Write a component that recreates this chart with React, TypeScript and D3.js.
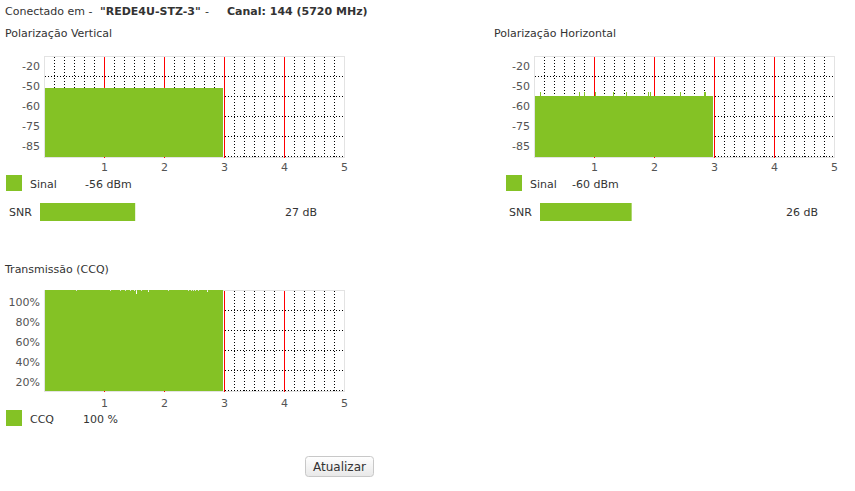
import React from "react";
import * as d3 from "d3";

// ---------- data ----------
const xTicks = [1, 2, 3, 4, 5];
const signalTicks = [-20, -50, -60, -75, -85];
const signalDomain = [-20, -50, -60, -75, -85, -95];
const ccqTicks = [100, 80, 60, 40, 20];

// run-length series: [count of 1-second samples, value]
const signalVRuns: [number, number][] = [[178, -56]];
const signalHRuns: [number, number][] = [
  [5, -60], [1, -58], [38, -60], [1, -58], [4, -60], [1, -58], [10, -60], [1, -58],
  [17, -60], [1, -58], [12, -60], [1, -58], [21, -60], [1, -58], [1, -60], [1, -58],
  [29, -60], [1, -58], [23, -60], [2, -58], [7, -60],
];
const ccqRuns: [number, number][] = [
  [31, 100], [1, 99], [33, 100], [1, 99], [9, 100], [1, 99], [4, 100], [1, 99],
  [4, 100], [1, 99], [3, 100], [1, 99], [1, 100], [1, 96], [4, 100], [1, 99],
  [6, 100], [1, 98], [19, 100], [1, 99], [19, 100], [1, 99], [2, 100], [1, 99],
  [1, 100], [1, 99], [1, 100], [1, 99], [2, 100], [1, 99], [8, 100], [1, 98], [15, 100],
];

const signalV = -56;
const signalH = -60;
const snrV = 27;
const snrH = 26;
const ccqNow = 100;

// ---------- style ----------
const GREEN = "#84c225";
const FONT = "'DejaVu Sans', Verdana, sans-serif";
const TEXT = "#333333";
const AXIS = "#545454";

function expand(runs: [number, number][]) {
  const out: { t: number; v: number }[] = [];
  let t = 1;
  for (const [n, v] of runs) {
    for (let k = 0; k < n; k++) out.push({ t: t++, v });
  }
  return out;
}

type ChartProps = {
  left: number;
  top: number;
  yScale: (v: number) => number;
  bottomVal: number;
  gridVals: number[];
  ticks: number[];
  tickFmt: (v: number) => string;
  labelOffset: number;
  xLabelY: number;
  data: { t: number; v: number }[];
};

function TimeChart(p: ChartProps) {
  const x = d3.scaleLinear().domain([0, 5]).range([p.left, p.left + 300]);
  const yB = p.yScale(p.bottomVal);
  const yT = p.top;
  const sub: number[] = [];
  for (let k = 1; k < 30; k++) if (k % 6 !== 0) sub.push(k / 6);
  return (
    <g>
      <rect x={p.left + 0.5} y={yT + 0.5} width={300} height={yB - yT + 1} fill="#fff" stroke="#e3e3e3" />
      {sub.map((s) => (
        <line key={"v" + s} x1={Math.round(x(s)) + 0.5} x2={Math.round(x(s)) + 0.5} y1={yT + 1} y2={yB + 1}
          stroke="#000" strokeDasharray="1,2" />
      ))}
      {p.gridVals.map((g) => (
        <line key={"h" + g} x1={p.left + 1} x2={p.left + 300} y1={p.yScale(g) + 0.5} y2={p.yScale(g) + 0.5}
          stroke="#000" strokeDasharray="1,2" />
      ))}
      {[1, 2, 3, 4].map((m) => (
        <line key={"r" + m} x1={x(m) + 0.5} x2={x(m) + 0.5} y1={yT + 1} y2={yB + 2} stroke="#ff0000" />
      ))}
      <g shapeRendering="crispEdges">
        {p.data.map((d) => (
          <rect key={d.t} x={x(d.t / 60)} width={x((d.t + 1) / 60) - x(d.t / 60)}
            y={p.yScale(d.v)} height={yB + 1 - p.yScale(d.v)} fill={GREEN} />
        ))}
      </g>
      {p.ticks.map((t) => (
        <text key={"y" + t} x={p.left - 4} y={p.yScale(t) + p.labelOffset} textAnchor="end"
          dominantBaseline="central" fill={AXIS} fontSize={11}>{p.tickFmt(t)}</text>
      ))}
      {xTicks.map((t) => (
        <text key={"x" + t} x={x(t) + 0.5} y={p.xLabelY} textAnchor="middle" dominantBaseline="central"
          fill={AXIS} fontSize={11}>{t}</text>
      ))}
    </g>
  );
}

export default function App() {
  const ySig = d3.scaleLinear().domain(signalDomain).range([56, 76, 96, 116, 136, 156]);
  const yCcq = d3.scaleLinear().domain([0, 100]).range([390, 290]);
  const snr = d3.scaleLinear().domain([0, 80]).range([0, 282]);
  const dV = expand(signalVRuns);
  const dH = expand(signalHRuns);
  const dC = expand(ccqRuns);

  return (
    <svg width={855} height={491} style={{ position: "absolute", left: 0, top: 0, background: "#fff" }}
      fontFamily={FONT} fontSize={11}>
      <text x={5} y={15} fill={TEXT} xmlSpace="preserve">
        <tspan>Conectado em - </tspan>
        <tspan fontWeight="bold" x={100}>"REDE4U-STZ-3"</tspan>
        <tspan x={205}>-</tspan>
        <tspan fontWeight="bold" x={227}>Canal: 144 (5720 MHz)</tspan>
      </text>

      <text x={5} y={37} fill={TEXT}>Polarização Vertical</text>
      <text x={494} y={37} fill={TEXT}>Polarização Horizontal</text>

      <TimeChart left={44} top={56} yScale={ySig} bottomVal={-95} gridVals={[-50, -60, -75, -85, -95]}
        ticks={signalTicks} tickFmt={(v) => String(v)} labelOffset={10} xLabelY={167} data={dV} />
      <TimeChart left={534} top={56} yScale={ySig} bottomVal={-95} gridVals={[-50, -60, -75, -85, -95]}
        ticks={signalTicks} tickFmt={(v) => String(v)} labelOffset={10} xLabelY={167} data={dH} />

      {/* legends signal */}
      <rect x={6} y={175} width={16} height={16} fill={GREEN} />
      <text x={30} y={184} dominantBaseline="central" fill={TEXT}>Sinal</text>
      <text x={85} y={184} dominantBaseline="central" fill={TEXT}>{signalV} dBm</text>
      <text x={9} y={212} dominantBaseline="central" fill={TEXT}>SNR</text>
      <rect x={40} y={203} width={snr(snrV)} height={18} fill={GREEN} />
      <text x={285} y={212} dominantBaseline="central" fill={TEXT}>{snrV} dB</text>

      <rect x={506} y={175} width={16} height={16} fill={GREEN} />
      <text x={530} y={184} dominantBaseline="central" fill={TEXT}>Sinal</text>
      <text x={572} y={184} dominantBaseline="central" fill={TEXT}>{signalH} dBm</text>
      <text x={509} y={212} dominantBaseline="central" fill={TEXT}>SNR</text>
      <rect x={540} y={203} width={snr(snrH)} height={18} fill={GREEN} />
      <text x={786} y={212} dominantBaseline="central" fill={TEXT}>{snrH} dB</text>

      <text x={5} y={273} fill={TEXT}>Transmissão (CCQ)</text>
      <TimeChart left={44} top={290} yScale={yCcq} bottomVal={0} gridVals={[80, 60, 40, 20, 0]}
        ticks={ccqTicks} tickFmt={(v) => v + "%"} labelOffset={12.5} xLabelY={403} data={dC} />

      <rect x={6} y={410} width={16} height={16} fill={GREEN} />
      <text x={30} y={419} dominantBaseline="central" fill={TEXT}>CCQ</text>
      <text x={83} y={419} dominantBaseline="central" fill={TEXT}>{ccqNow} %</text>

      <defs>
        <linearGradient id="btn" x1="0" y1="0" x2="0" y2="1">
          <stop offset="0" stopColor="#ffffff" />
          <stop offset="1" stopColor="#e8e8e8" />
        </linearGradient>
      </defs>
      <rect x={305.5} y={456.5} width={68} height={20} rx={3} fill="url(#btn)" stroke="#c8c8c8" />
      <text x={339.5} y={466.5} textAnchor="middle" dominantBaseline="central" fill={TEXT} fontSize={12}>Atualizar</text>
    </svg>
  );
}
